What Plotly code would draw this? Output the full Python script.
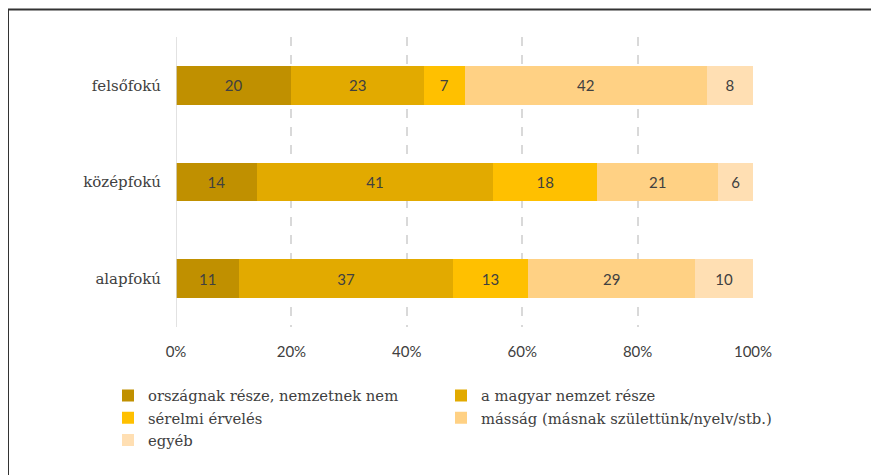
import plotly.graph_objects as go

categories = ["alapfokú", "középfokú", "felsőfokú"]
series_names = [
    "országnak része, nemzetnek nem",
    "a magyar nemzet része",
    "sérelmi érvelés",
    "másság (másnak születtünk/nyelv/stb.)",
    "egyéb",
]
values = {
    "országnak része, nemzetnek nem": [11, 14, 20],
    "a magyar nemzet része": [37, 41, 23],
    "sérelmi érvelés": [13, 18, 7],
    "másság (másnak születtünk/nyelv/stb.)": [29, 21, 42],
    "egyéb": [10, 6, 8],
}
colors = ["#C09000", "#E2AA00", "#FFC000", "#FFD184", "#FFDFB3"]
tick_vals = [0, 20, 40, 60, 80, 100]
tick_text = ["0%", "20%", "40%", "60%", "80%", "100%"]

SERIF = "DejaVu Serif"
SANS = "Lato"

fig = go.Figure()
for name, col in zip(series_names, colors):
    v = values[name]
    fig.add_trace(go.Bar(
        y=categories, x=v, name=name, orientation="h",
        marker=dict(color=col, line=dict(width=0)),
        text=[str(t) for t in v], textposition="inside", insidetextanchor="middle",
        textangle=0, constraintext="none",
        textfont=dict(family=SANS, size=15, color="#404040"),
        hoverinfo="skip",
    ))

L, R, T, B = 168, 134, 29, 156
PW, PH = 879 - L - R, 475 - T - B

fig.update_layout(
    barmode="stack", bargap=0.6,
    width=879, height=475,
    margin=dict(l=L, r=R, t=T, b=B),
    paper_bgcolor="white", plot_bgcolor="white",
    font=dict(family=SERIF),
    showlegend=True,
    legend=dict(
        orientation="h", x=(100 - L) / PW, y=-0.181, xanchor="left", yanchor="top",
        entrywidth=288, entrywidthmode="pixels", traceorder="normal",
        font=dict(family=SERIF, size=14.8, color="#404040"),
        itemwidth=30, tracegroupgap=0, itemclick=False,
    ),
    xaxis=dict(
        range=[0, 100], tickvals=tick_vals, ticktext=tick_text,
        showgrid=True, gridcolor="#D9D9D9", griddash="dash", gridwidth=1.5,
        zeroline=False, showline=False, ticks="",
        tickfont=dict(family=SANS, size=15, color="#404040"),
        fixedrange=True, ticklabelstandoff=14,
    ),
    yaxis=dict(
        showgrid=False, zeroline=False, showline=False, ticks="",
        tickfont=dict(family=SERIF, size=15, color="#404040"),
        ticklabelstandoff=14, fixedrange=True,
    ),
    shapes=[
        dict(type="line", xref="x", yref="paper", x0=0, x1=0, y0=0, y1=1,
             line=dict(color="#D9D9D9", width=1.5)),
        dict(type="rect", xref="paper", yref="paper",
             x0=(0 - L) / PW, x1=1.3, y0=(T + PH - 1.5) / PH, y1=-1,
             line=dict(color="#333333", width=2), fillcolor="rgba(0,0,0,0)", layer="below"),
    ],
)
fig.write_html("out.html")
